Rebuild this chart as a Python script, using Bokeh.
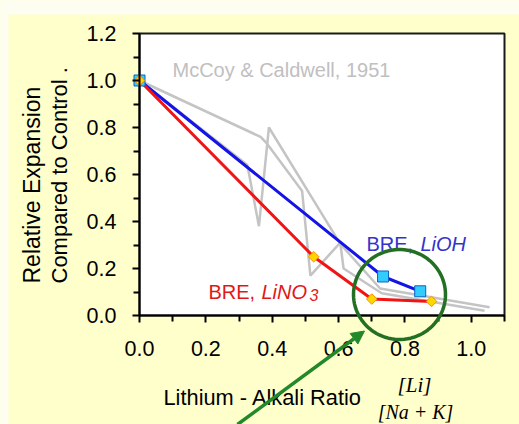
import math
from bokeh.plotting import figure
from bokeh.models import (Range1d, FixedTicker, PrintfTickFormatter, Label,
                          PolyAnnotation, BoxAnnotation, Arrow, NormalHead)
from bokeh.embed import file_html
from bokeh.resources import INLINE

# ---------------- data ----------------
# McCoy & Caldwell, 1951 (grey traces)
mc1_x = [0.0, 0.365, 0.385, 0.49, 0.515, 0.605, 0.615, 0.73, 1.04]
mc1_y = [1.0, 0.76, 0.73, 0.53, 0.17, 0.31, 0.20, 0.095, 0.02]
mc2_x = [0.0, 0.325, 0.36, 0.39, 0.605, 0.725, 1.055]
mc2_y = [1.0, 0.64, 0.38, 0.80, 0.305, 0.115, 0.035]

# BRE, LiNO3
lino3_x = [0.0, 0.525, 0.70, 0.88]
lino3_y = [1.0, 0.25, 0.07, 0.06]

# BRE, LiOH
lioh_x = [0.0, 0.734, 0.846]
lioh_y = [1.0, 0.166, 0.103]

x_major = [0.0, 0.2, 0.4, 0.6, 0.8, 1.0]
x_minor = [0.1, 0.3, 0.5, 0.7, 0.9, 1.1]
y_major = [0.0, 0.2, 0.4, 0.6, 0.8, 1.0, 1.2]
y_minor = [0.1, 0.3, 0.5, 0.7, 0.9, 1.1]
X_MAX, Y_MAX = 1.1, 1.2

SANS = "Liberation Sans"
SERIF = "Liberation Serif"
BG = "#FFFFCC"

W, H = 519, 424
PX_L, PX_R, PX_T, PX_B = 139, 504, 33, 315       # plot-area box on the canvas
sx = (PX_R - PX_L) / X_MAX
sy = (PX_B - PX_T) / Y_MAX
xr = Range1d(-PX_L / sx, (W - PX_L) / sx)
yr = Range1d(-(H - PX_B) / sy, PX_B / sy)
FIX = 6.5   # baseline correction (px)


def dx(px):
    return (px - PX_L) / sx


def dy(py):
    return (PX_B - py + FIX) / sy


p = figure(width=W, height=H, output_backend="svg", toolbar_location=None,
           x_range=xr, y_range=yr, min_border=0)
p.border_fill_color = BG
p.background_fill_color = BG
p.outline_line_color = None
p.grid.visible = False

# slide edges (lighter strips)
p.add_layout(BoxAnnotation(bottom=yr.end - 14 / sy, top=yr.end + 1, fill_color="#FDFDF2",
                           fill_alpha=1, line_alpha=0, level="underlay"))
p.add_layout(BoxAnnotation(left=xr.start - 1, right=xr.start + 8 / sx, fill_color="#FDFDF2",
                           fill_alpha=1, line_alpha=0, level="underlay"))
# white plot area with dark border
p.add_layout(BoxAnnotation(left=0, right=X_MAX, bottom=0, top=Y_MAX, fill_color="white",
                           fill_alpha=1, line_color="#1a1a1a", line_alpha=1,
                           line_width=2, level="underlay"))

for ax, maj, mnr, bnd in ((p.xaxis[0], x_major, x_minor, (0, X_MAX)),
                          (p.yaxis[0], y_major, y_minor, (0, Y_MAX))):
    ax.fixed_location = 0
    ax.bounds = bnd
    ax.ticker = FixedTicker(ticks=maj, minor_ticks=mnr)
    ax.formatter = PrintfTickFormatter(format="%.1f")
    ax.axis_line_width = 2
    ax.axis_line_color = "black"
    ax.major_tick_line_width = 2
    ax.minor_tick_line_width = 2
    ax.major_tick_in = 0
    ax.minor_tick_in = 0
    ax.major_tick_out = 7
    ax.minor_tick_out = 6
    ax.major_label_text_font = SANS
    ax.major_label_text_font_size = "21.5px"
    ax.major_label_text_color = "black"
p.xaxis.major_label_standoff = 18
p.yaxis.major_label_standoff = 16

# grey reference traces
for xs, ys in ((mc1_x, mc1_y), (mc2_x, mc2_y)):
    p.line(xs, ys, line_color="#c4c4c4", line_width=2.5)

# BRE series
p.line(lioh_x, lioh_y, line_color="#1414e6", line_width=3)
p.line(lino3_x, lino3_y, line_color="#f01414", line_width=3)
p.scatter(lioh_x, lioh_y, marker="square", size=11, fill_color="#33ccff",
          line_color="#1060c0", line_width=1)
p.scatter(lino3_x, lino3_y, marker="square", angle=math.pi / 4, size=7.5,
          fill_color="#ffd700", line_color="#ff8c00", line_width=1)

# texts inside plot
p.add_layout(Label(x=dx(172), y=dy(76), text="McCoy & Caldwell, 1951",
                   text_font=SANS, text_font_size="20px", text_color="#c0c0c0",
                   text_baseline="alphabetic"))
p.add_layout(Label(x=dx(366), y=dy(250), text="BRE, ", text_font=SANS,
                   text_font_size="20px", text_color="#3333cc", text_baseline="alphabetic"))
p.add_layout(Label(x=dx(420), y=dy(250), text="LiOH", text_font=SANS,
                   text_font_size="20px", text_font_style="italic", text_color="#3333cc",
                   text_baseline="alphabetic"))
p.add_layout(Label(x=dx(208), y=dy(298), text="BRE, ", text_font=SANS,
                   text_font_size="20px", text_color="#e01818", text_baseline="alphabetic"))
p.add_layout(Label(x=dx(261), y=dy(298), text="LiNO", text_font=SANS,
                   text_font_size="20px", text_font_style="italic", text_color="#e01818",
                   text_baseline="alphabetic"))
p.add_layout(Label(x=dx(309), y=dy(301), text="3", text_font=SANS,
                   text_font_size="16px", text_font_style="italic", text_color="#e01818",
                   text_baseline="alphabetic"))

# axis titles
p.add_layout(Label(x=dx(163), y=dy(403), text="Lithium - Alkali Ratio",
                   text_font=SANS, text_font_size="21.8px", text_color="black",
                   text_baseline="alphabetic"))
p.add_layout(Label(x=dx(414), y=dy(391), text="[Li]", text_font=SERIF,
                   text_font_size="21px", text_font_style="italic", text_align="center",
                   text_color="black", text_baseline="alphabetic"))
p.add_layout(Label(x=dx(415), y=dy(418), text="[Na + K]", text_font=SERIF,
                   text_font_size="20px", text_font_style="italic", text_align="center",
                   text_color="black", text_baseline="alphabetic"))
p.add_layout(Label(x=dx(38 - FIX), y=(PX_B - 283) / sy, text="Relative Expansion",
                   angle=math.pi / 2, text_font=SANS, text_font_size="23px",
                   text_color="black", text_baseline="alphabetic"))
p.add_layout(Label(x=dx(65 - FIX), y=(PX_B - 283) / sy, text="Compared to Control .",
                   angle=math.pi / 2, text_font=SANS, text_font_size="22px",
                   text_color="black", text_baseline="alphabetic"))

# green highlight circle and arrow
cx, cy = (399 - PX_L) / sx, (PX_B - 294) / sy
rx, ry = 46 / sx, 45 / sy
n = 90
circ_x = [cx + rx * math.cos(2 * math.pi * i / n) for i in range(n)]
circ_y = [cy + ry * math.sin(2 * math.pi * i / n) for i in range(n)]
p.add_layout(PolyAnnotation(xs=circ_x, ys=circ_y, fill_alpha=0, line_alpha=1,
                            line_color="#236f23", line_width=3.5))
p.add_layout(Arrow(x_start=(237 - PX_L) / sx, y_start=(PX_B - 424) / sy,
                   x_end=(364 - PX_L) / sx, y_end=(PX_B - 330.5) / sy,
                   line_color="#22882a", line_width=3.5,
                   end=NormalHead(size=13, fill_color="#22882a", line_color="#22882a")))

open("out.html", "w").write(file_html(p, INLINE))
